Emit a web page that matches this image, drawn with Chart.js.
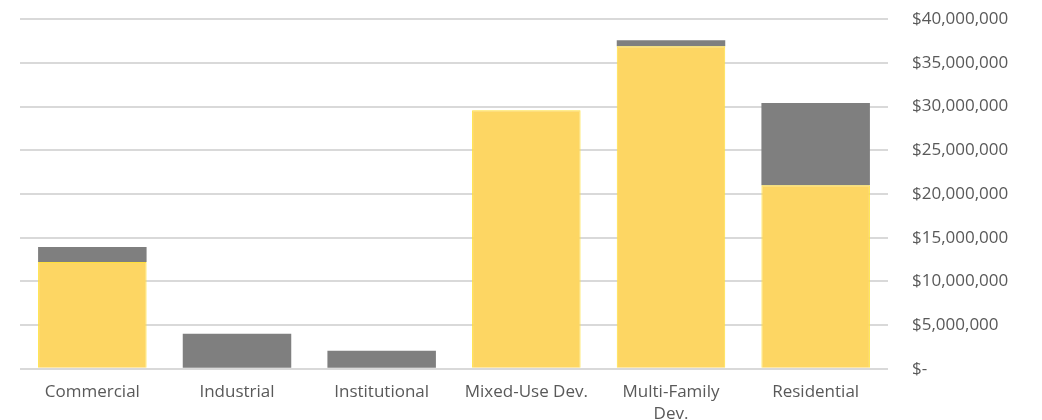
<!DOCTYPE html>
<html>
<head>
<meta charset="utf-8">
<script src="https://cdn.jsdelivr.net/npm/chart.js@4"></script>
<style>
    html, body { margin: 0; padding: 0; background: #fff; overflow: hidden; }
    #wrap { width: 1042px; height: 444px; margin-top: -15px; position: relative; }
</style>
</head>
<body>
<div id="wrap"><canvas id="chart"></canvas></div>
<script>
const categories = ['Commercial', 'Industrial', 'Institutional', 'Mixed-Use Dev.', ['Multi-Family', 'Dev.'], 'Residential'];
const yellowValues = [12230000, 0, 0, 29570000, 36900000, 21000000];
const grayValues = [1710000, 4000000, 2060000, 0, 700000, 9400000];
const yTicks = { min: 0, max: 40000000, step: 5000000 };

const labelFont = { family: "'Open Sans', sans-serif", size: 17 };

function money(v) {
    if (v === 0) return '$-';
    return '$' + v.toLocaleString('en-US');
}

new Chart(document.getElementById('chart'), {
    type: 'bar',
    data: {
        labels: categories,
        datasets: [
            {
                data: yellowValues,
                backgroundColor: '#FDD663',
                borderColor: '#FFE03A',
                borderWidth: 1,
                borderSkipped: 'bottom'
            },
            {
                data: grayValues,
                backgroundColor: '#7F7F7F',
                borderWidth: 0
            }
        ]
    },
    options: {
        responsive: true,
        maintainAspectRatio: false,
        animation: false,
        layout: { padding: { left: 20, top: 3, right: 0, bottom: 0 } },
        plugins: { legend: { display: false }, tooltip: { enabled: false } },
        datasets: { bar: { categoryPercentage: 1, barPercentage: 0.75 } },
        scales: {
            x: {
                stacked: true,
                grid: { display: false },
                border: { display: false },
                ticks: {
                    color: '#595959',
                    font: { ...labelFont, lineHeight: 1.3 },
                    padding: 4,
                    maxRotation: 0,
                    autoSkip: false
                }
            },
            y: {
                stacked: true,
                position: 'right',
                min: yTicks.min,
                max: yTicks.max,
                grid: { color: '#d9d9d9', lineWidth: 2, drawTicks: false },
                border: { display: false },
                ticks: {
                    stepSize: yTicks.step,
                    color: '#595959',
                    font: labelFont,
                    padding: 24,
                    callback: (v) => money(v)
                },
                afterFit: (scale) => { scale.width = 154; }
            }
        }
    }
});
</script>
</body>
</html>
